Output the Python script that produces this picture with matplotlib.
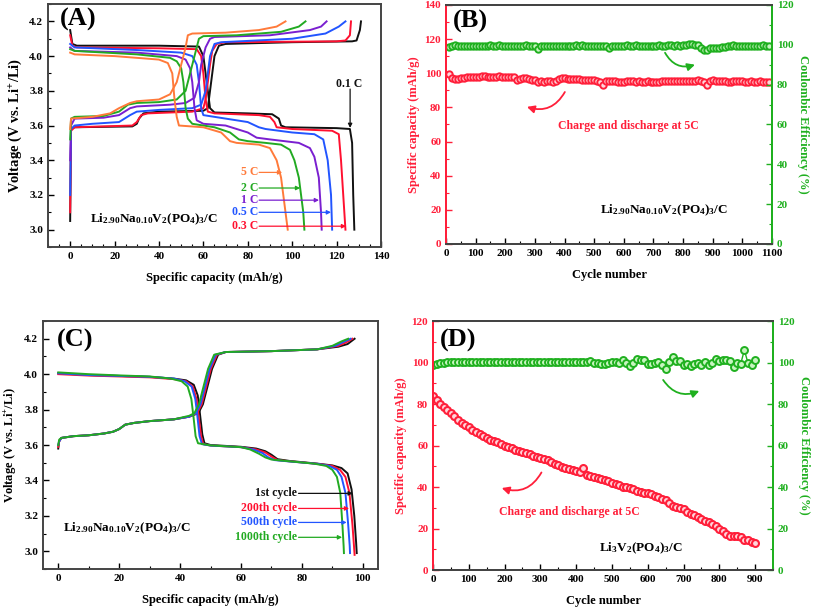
import matplotlib
matplotlib.use('Agg')
from matplotlib import pyplot as plt
from matplotlib.ticker import MultipleLocator

plt.rcParams['font.family'] = ['Liberation Serif', 'DejaVu Serif']
plt.rcParams['font.weight'] = 'bold'
plt.rcParams['axes.labelweight'] = 'bold'
plt.rcParams['mathtext.fontset'] = 'custom'
plt.rcParams['mathtext.rm'] = 'Liberation Serif:bold'
plt.rcParams['mathtext.it'] = 'Liberation Serif:italic:bold'
plt.rcParams['mathtext.bf'] = 'Liberation Serif:bold'
plt.rcParams['mathtext.default'] = 'bf'

FRAME = '#444444'
RED = '#ff1f3a'
GREEN = '#1fb01f'
FORMULA_NA = r'Li$_{2.90}$Na$_{0.10}$V$_2$(PO$_4$)$_3$/C'
FORMULA_LVP = r'Li$_3$V$_2$(PO$_4$)$_3$/C'

# ---- panel A : charge / discharge at different rates (cap mAh/g, V)
rate_labels = ['0.1 C', '0.3 C', '0.5 C', '1 C', '2 C', '5 C']
rate_colors = ['#111111', '#ff1030', '#2255ff', '#7a1fd0', '#22aa22', '#ff7a3a']

chg_01 = [(0, 3.05), (0.4, 3.58), (2, 3.59), (28, 3.595), (30, 3.61), (31, 3.64), (33, 3.67), (40, 3.68),
          (60, 3.685), (62, 3.70), (63, 3.8), (64, 3.9), (65, 4.0), (67, 4.06), (70, 4.07), (100, 4.08),
          (127, 4.085), (129, 4.09), (130.5, 4.15), (131, 4.2)]
dis_01 = [(0, 4.15), (1, 4.07), (3, 4.06), (40, 4.06), (58, 4.055), (60, 4.0), (61, 3.9), (62, 3.8), (63, 3.7),
          (65, 3.675), (80, 3.67), (91, 3.665), (94, 3.64), (95, 3.6), (97, 3.59), (120, 3.585), (126, 3.58),
          (127, 3.5), (127.5, 3.2), (128, 3.0)]
chg_03 = [(0, 3.1), (0.4, 3.57), (2, 3.59), (28, 3.6), (30, 3.62), (32, 3.66), (35, 3.67), (55, 3.68),
          (60, 3.70), (61, 3.75), (62, 3.85), (63, 3.95), (64, 4.03), (66, 4.07), (70, 4.08), (120, 4.085),
          (124, 4.09), (126, 4.12), (126.5, 4.2)]
dis_03 = [(0, 4.12), (1, 4.06), (3, 4.05), (40, 4.045), (57, 4.04), (59, 4.0), (60, 3.9), (61, 3.75),
          (62, 3.68), (65, 3.67), (85, 3.66), (90, 3.65), (92, 3.62), (93, 3.59), (100, 3.58), (118, 3.57),
          (121, 3.55), (122, 3.4), (123, 3.2), (124, 3.0)]
chg_05 = [(0, 3.2), (0.4, 3.58), (2, 3.60), (10, 3.61), (22, 3.62), (27, 3.66), (30, 3.68), (40, 3.69),
          (55, 3.70), (59, 3.72), (61, 3.8), (62, 3.9), (63, 4.0), (65, 4.07), (68, 4.08), (100, 4.10),
          (115, 4.13), (121, 4.17), (124, 4.2)]
dis_05 = [(0, 4.07), (2, 4.05), (30, 4.035), (50, 4.02), (55, 4.0), (57, 3.95), (58, 3.85), (59, 3.7),
          (60, 3.66), (65, 3.65), (80, 3.62), (85, 3.59), (88, 3.58), (100, 3.56), (110, 3.55), (114, 3.52),
          (116, 3.4), (117.5, 3.2), (118, 3.0)]
chg_1 = [(0, 3.4), (0.4, 3.6), (2, 3.64), (15, 3.645), (22, 3.66), (27, 3.7), (30, 3.71), (45, 3.72),
         (52, 3.73), (56, 3.76), (58, 3.85), (59, 3.95), (61, 4.05), (63, 4.1), (65, 4.11), (90, 4.12),
         (108, 4.15), (113, 4.17), (115.5, 4.2)]
dis_1 = [(0, 4.05), (2, 4.03), (30, 4.02), (48, 4.0), (52, 3.98), (54, 3.93), (55, 3.85), (56, 3.7),
         (57, 3.63), (60, 3.61), (70, 3.6), (80, 3.56), (84, 3.53), (90, 3.52), (103, 3.50), (108, 3.47),
         (110, 3.42), (112, 3.3), (113, 3.1), (113.3, 3.0)]
chg_2 = [(0, 3.52), (0.4, 3.64), (2, 3.65), (15, 3.655), (22, 3.68), (26, 3.72), (30, 3.73), (40, 3.735),
         (48, 3.75), (52, 3.8), (54, 3.9), (56, 4.0), (58, 4.1), (60, 4.115), (75, 4.12), (95, 4.14),
         (103, 4.17), (106, 4.2)]
dis_2 = [(0, 4.04), (2, 4.03), (30, 4.01), (45, 3.99), (48, 3.97), (50, 3.93), (51, 3.85), (52, 3.7),
         (53, 3.64), (55, 3.61), (65, 3.59), (72, 3.56), (76, 3.52), (80, 3.51), (88, 3.50), (95, 3.49),
         (99, 3.46), (101, 3.40), (103, 3.3), (105, 3.1), (105.5, 3.0)]
chg_5 = [(0, 3.58), (0.4, 3.64), (10, 3.65), (18, 3.67), (22, 3.70), (27, 3.73), (30, 3.74), (40, 3.75),
         (45, 3.78), (48, 3.85), (50, 3.95), (52, 4.05), (53, 4.12), (55, 4.13), (70, 4.135), (85, 4.15),
         (93, 4.17), (97, 4.2)]
dis_5 = [(0, 4.02), (2, 4.01), (20, 4.0), (40, 3.98), (44, 3.96), (46, 3.9), (47, 3.75), (48, 3.65),
         (49, 3.6), (60, 3.59), (68, 3.56), (72, 3.51), (75, 3.50), (85, 3.49), (90, 3.47), (93, 3.4),
         (95, 3.3), (97, 3.1), (98, 3.0)]
rate_charge = [chg_01, chg_03, chg_05, chg_1, chg_2, chg_5]
rate_discharge = [dis_01, dis_03, dis_05, dis_1, dis_2, dis_5]
# label voltage and arrow end capacity for the rate tags
rate_tag_v = [None, 3.02, 3.10, 3.17, 3.24, 3.33]
rate_tag_end = [None, 124.3, 117.5, 112.1, 103.6, 95.5]

# ---- panel B : long cycling of Li2.90Na0.10V2(PO4)3/C at 5C
b_cycle = list(range(10, 1100, 10))
b_capacity = [99.5, 97.5, 96.8, 96.8, 97, 97.5, 97.8, 98, 98, 98, 97.8, 98.2, 98.3, 98, 97.8, 98, 97.7, 98.2,
              97.8, 97.8, 97.8, 97.6, 97.6, 96.3, 96.5, 97.3, 97, 96.5, 96.2, 95.8, 95, 95.5, 95, 95.2, 95.4,
              94.7, 95.5, 96.5, 97, 97, 96.8, 96.5, 96.5, 96.6, 96.4, 96.2, 96, 96.3, 96.2, 95.8, 95.6, 94.8,
              93, 95.5, 95.3, 95.3, 95.2, 95, 94.7, 95, 95.2, 95.5, 95.3, 95, 95.2, 94.7, 94.8, 95.2, 95, 94.8,
              95, 94.8, 95.2, 95.4, 95.4, 95.5, 95.5, 95.5, 95.5, 95.5, 95.6, 95.5, 95.6, 95.4, 95.8, 95.6,
              94.7, 93, 95.5, 95.8, 95.5, 95.2, 95.5, 95.2, 94.6, 95, 95.3, 95.3, 95.5, 95.4, 94.8, 95, 95.2,
              95, 94.9, 95.2, 94.6, 94.7, 94.7]
b_efficiency = [98.8, 99.6, 99.7, 99.6, 99.5, 99.6, 99.6, 99.5, 99.6, 99.6, 99.5, 99.4, 99.5, 99.4, 99.7, 99.5,
                99.4, 99.7, 99.6, 99.5, 99.4, 99.5, 99.4, 99.5, 99.6, 99.5, 99.7, 99.6, 99.6, 99.3, 98.0, 99.4,
                99.6, 99.6, 99.5, 99.5, 99.4, 99.6, 99.5, 99.3, 99.6, 99.5, 99.4, 99.7, 99.6, 99.7, 99.5, 99.6,
                99.6, 99.5, 99.4, 99.6, 99.6, 99.3, 98.2, 99.4, 99.5, 99.4, 99.6, 99.5, 99.7, 99.5, 99.6, 99.7,
                99.6, 99.5, 99.6, 99.4, 99.5, 99.4, 99.6, 99.8, 99.6, 99.5, 99.7, 99.8, 99.6, 99.7, 99.6, 99.7,
                99.8, 100.4, 100.3, 99.9, 99.8, 98.2, 97.2, 97.6, 98.4, 98.6, 98.5, 98.6, 98.7, 98.8, 99.2,
                99.6, 99.7, 99.6, 99.5, 99.6, 99.4, 99.2, 99.4, 99.6, 99.5, 99.6, 99.7, 99.6, 99.3]

# ---- panel C : selected cycles at 5C
cycle_labels = ['1st cycle', '200th cycle', '500th cycle', '1000th cycle']
cycle_colors = ['#111111', '#ff1030', '#2255ff', '#22aa22']
c_chg_1 = [(0, 3.58), (0.3, 3.62), (1, 3.64), (5, 3.65), (10, 3.655), (15, 3.665), (18, 3.675), (20, 3.69),
           (22, 3.715), (25, 3.725), (30, 3.735), (38, 3.745), (43, 3.76), (46, 3.78), (47.5, 3.83),
           (49, 3.93), (50.5, 4.03), (52.5, 4.11), (55, 4.125), (70, 4.13), (85, 4.14), (92, 4.155),
           (95, 4.17), (97.3, 4.2)]
c_chg_200 = [(0, 3.59), (0.3, 3.62), (1, 3.64), (5, 3.65), (10, 3.655), (15, 3.665), (18, 3.675), (20, 3.69),
             (22, 3.715), (25, 3.725), (30, 3.735), (38, 3.745), (43, 3.76), (45.6, 3.78), (47.1, 3.83),
             (48.6, 3.93), (50.1, 4.03), (52.1, 4.11), (55, 4.125), (70, 4.13), (85, 4.14), (92, 4.16),
             (94.6, 4.18), (96.6, 4.2)]
c_chg_500 = [(0, 3.6), (0.3, 3.62), (1, 3.64), (5, 3.65), (10, 3.655), (15, 3.665), (18, 3.675), (20, 3.69),
             (22, 3.715), (25, 3.725), (30, 3.735), (38, 3.745), (43, 3.76), (45.2, 3.78), (46.7, 3.83),
             (48.2, 3.93), (49.7, 4.03), (51.7, 4.11), (55, 4.125), (70, 4.13), (85, 4.14), (91, 4.16),
             (94, 4.185), (96.0, 4.2)]
c_chg_1000 = [(0, 3.6), (0.3, 3.63), (1, 3.64), (5, 3.65), (10, 3.655), (15, 3.665), (18, 3.675), (20, 3.69),
              (22, 3.715), (25, 3.725), (30, 3.735), (38, 3.745), (43, 3.765), (44.7, 3.78), (46.2, 3.83),
              (47.7, 3.93), (49.2, 4.03), (51.2, 4.11), (55, 4.125), (70, 4.13), (85, 4.14), (90, 4.16),
              (93, 4.185), (95.2, 4.2)]
c_dis_1 = [(0, 4.005), (10, 3.995), (20, 3.99), (30, 3.985), (38, 3.975), (42, 3.965), (44.5, 3.94),
           (45.8, 3.88), (46.5, 3.78), (47.3, 3.66), (48, 3.61), (50, 3.6), (60, 3.59), (65, 3.58),
           (68, 3.565), (70, 3.545), (72, 3.52), (76, 3.51), (85, 3.495), (90, 3.485), (93, 3.47),
           (95, 3.44), (96.3, 3.35), (97.2, 3.2), (97.8, 3.05), (98, 2.99)]
c_dis_200 = [(0, 4.0), (10, 3.992), (20, 3.987), (30, 3.982), (38, 3.972), (42, 3.96), (44.2, 3.93),
             (45.4, 3.86), (46.1, 3.76), (46.9, 3.65), (47.6, 3.605), (50, 3.597), (60, 3.588), (65, 3.575),
             (68, 3.558), (70, 3.535), (72, 3.515), (76, 3.508), (85, 3.494), (90, 3.482), (92.5, 3.46),
             (94.3, 3.42), (95.6, 3.33), (96.6, 3.15), (97.1, 3.03), (97.3, 2.98)]
c_dis_500 = [(0, 4.005), (10, 3.995), (20, 3.99), (30, 3.985), (38, 3.975), (41.5, 3.96), (43.8, 3.93),
             (45, 3.86), (45.7, 3.76), (46.4, 3.65), (47.2, 3.605), (50, 3.597), (60, 3.588), (64, 3.575),
             (67, 3.555), (69, 3.53), (71, 3.515), (76, 3.507), (85, 3.494), (89, 3.482), (91.5, 3.46),
             (93, 3.42), (94.3, 3.33), (95.2, 3.15), (95.7, 3.03), (95.8, 2.99)]
c_dis_1000 = [(0, 4.01), (10, 4.0), (20, 3.993), (30, 3.987), (37, 3.975), (40.5, 3.96), (42.5, 3.93),
              (43.7, 3.86), (44.4, 3.76), (45.1, 3.65), (45.9, 3.61), (50, 3.598), (60, 3.588), (63, 3.575),
              (66, 3.55), (68, 3.53), (70, 3.518), (76, 3.508), (84, 3.495), (88, 3.482), (90, 3.46),
              (91.5, 3.42), (92.6, 3.33), (93.3, 3.15), (93.7, 3.03), (93.8, 2.99)]
c_charge = [c_chg_1, c_chg_200, c_chg_500, c_chg_1000]
c_discharge = [c_dis_1, c_dis_200, c_dis_500, c_dis_1000]
c_tag_v = [3.327, 3.242, 3.163, 3.079]
c_tag_end = [96.7, 95.5, 94.7, 93.2]

# ---- panel D : long cycling of Li3V2(PO4)3/C at 5C
d_cycle = [1] + list(range(10, 910, 10))
d_capacity = [84, 82, 80, 78.5, 77, 75.5, 74, 72.5, 71, 70, 69, 67.5, 66.5, 65.5, 64.5, 63.5, 62.5, 62, 61.5,
              60.5, 60, 59.5, 59, 58, 57.5, 57, 56.5, 56, 55, 54.5, 54, 53.5, 53, 52, 51, 50.5, 49.5, 49, 48.5,
              48, 47.5, 47, 49, 46, 45.5, 45, 44.5, 44, 43.5, 43, 42, 41.5, 41, 40, 40, 39.5, 39, 38, 37.5, 37,
              37, 36.5, 35.5, 35, 34, 33.5, 32.5, 31, 30.5, 30, 29.5, 28, 27, 26.5, 25.5, 24.5, 23.5, 23, 22,
              21, 20, 19, 17.5, 16.5, 16.5, 16.5, 16, 14.5, 14.5, 13.5, 13]
d_efficiency = [99, 99.5, 99.6, 100, 100.2, 100.3, 100.3, 100.3, 100.2, 100.3, 100.3, 100.2, 100.3, 100.2,
                100.3, 100.3, 100.2, 100.3, 100.2, 100.2, 100.1, 100.2, 100.2, 100.1, 100.2, 100.2, 100.1,
                100.2, 100.1, 100.2, 100.1, 100.2, 100.1, 100.2, 100.1, 100.1, 100.2, 100.1, 100.2, 100.2,
                100.2, 100.1, 100.2, 100.2, 100.6, 100, 99.6, 99.5, 99.4, 99.8, 100.4, 100.2, 99.8, 101.2,
                100, 98.5, 99.8, 101.5, 101, 101.2, 99.2, 99.4, 99.8, 100.4, 99, 96.8, 100.2, 102.5, 100.8,
                100.6, 98.8, 99.2, 98.2, 99.2, 100, 99, 100.2, 98.8, 99.8, 101.5, 100.6, 101, 101, 100.6, 98,
                99.6, 99.5, 106, 99.8, 98.6, 101]


def style_frame(ax, left_color=FRAME, right_color=FRAME):
  for side in ['top', 'bottom']:
    ax.spines[side].set_color(FRAME)
    ax.spines[side].set_linewidth(1.4)
  ax.spines['left'].set_color(left_color)
  ax.spines['left'].set_linewidth(1.4)
  ax.spines['right'].set_color(right_color)
  ax.spines['right'].set_linewidth(1.4)
  ax.tick_params(which='both', direction='in', labelsize=8)
  ax.tick_params(which='major', length=4, width=1)
  ax.tick_params(which='minor', length=2, width=0.8)


def plot_profile(ax, pts, color):
  ax.plot([p[0] for p in pts], [p[1] for p in pts], color=color, lw=1.4)


def tag_arrow(ax, label, x_text, y, x_end, color, fs=8.5):
  ax.text(x_text, y, label, color=color, fontsize=fs, ha='right', va='center', fontweight='bold')
  ax.annotate('', xy=(x_end, y), xytext=(x_text + 0.5, y),
              arrowprops=dict(arrowstyle='-|>', color=color, lw=0.9, mutation_scale=6, shrinkA=0, shrinkB=0))


fig = plt.figure(figsize=(8.13, 6.11), dpi=100)

# ----- (A)
axA = fig.add_axes([0.0590, 0.5957, 0.4096, 0.3977])
for chg, dis, col in zip(rate_charge, rate_discharge, rate_colors):
  plot_profile(axA, chg, col)
  plot_profile(axA, dis, col)
axA.set_xlim(-10, 140)
axA.set_ylim(2.9, 4.3)
axA.xaxis.set_major_locator(MultipleLocator(20))
axA.xaxis.set_minor_locator(MultipleLocator(5))
axA.yaxis.set_major_locator(MultipleLocator(0.2))
axA.yaxis.set_minor_locator(MultipleLocator(0.1))
axA.set_xlabel('Specific capacity (mAh/g)', fontsize=9, labelpad=8)
axA.set_ylabel(r'Voltage (V vs. Li$^{+}$/Li)', fontsize=10.5, labelpad=4)
style_frame(axA)
for i in range(1, len(rate_labels)):
  tag_arrow(axA, rate_labels[i], 84.6, rate_tag_v[i], rate_tag_end[i], rate_colors[i])
axA.text(125.5, 3.84, rate_labels[0], fontsize=8.5, ha='center', va='center', color='#111111')
axA.annotate('', xy=(126.1, 3.586), xytext=(126.1, 3.81),
             arrowprops=dict(arrowstyle='-|>', color='#111111', lw=0.9, mutation_scale=6, shrinkA=0, shrinkB=0))
axA.text(9, 3.06, FORMULA_NA, fontsize=9.5, ha='left', va='center')
axA.text(0.036, 0.938, '(A)', transform=axA.transAxes, fontsize=19, ha='left', va='center')

# ----- (B)
axB = fig.add_axes([0.5486, 0.6007, 0.4010, 0.3912])
axB2 = axB.twinx()
axB.plot(b_cycle, b_capacity, color=RED, lw=1, marker='o', ms=4.6, mfc='#ffd6dc', mec=RED, mew=1.4)
axB2.plot(b_cycle, b_efficiency, color=GREEN, lw=1, marker='o', ms=4.6, mfc='#c8f5c0', mec=GREEN, mew=1.4)
axB.set_xlim(0, 1100)
axB.set_ylim(0, 140)
axB2.set_ylim(0, 120)
axB.xaxis.set_major_locator(MultipleLocator(100))
axB.xaxis.set_minor_locator(MultipleLocator(50))
axB.yaxis.set_major_locator(MultipleLocator(20))
axB.yaxis.set_minor_locator(MultipleLocator(10))
axB2.yaxis.set_major_locator(MultipleLocator(20))
axB2.yaxis.set_minor_locator(MultipleLocator(10))
axB.set_xlabel('Cycle number', fontsize=9, labelpad=8)
axB.set_ylabel('Specific capacity (mAh/g)', fontsize=9, color=RED, labelpad=3)
axB2.set_ylabel('Coulombic Efficiency (%)', fontsize=9, color=GREEN, rotation=270, labelpad=11)
style_frame(axB, RED, GREEN)
style_frame(axB2, RED, GREEN)
axB.tick_params(axis='y', which='both', colors=RED)
axB2.tick_params(axis='y', which='both', colors=GREEN)
axB.text(614, 69, 'Charge and discharge at 5C', color=RED, fontsize=8.5, ha='center', va='center')
axB.annotate('', xy=(273, 80.3), xytext=(401, 89),
             arrowprops=dict(arrowstyle='-|>', color=RED, lw=1.3, mutation_scale=11,
                             connectionstyle='arc3,rad=-0.4', shrinkA=0, shrinkB=0))
axB2.annotate('', xy=(840, 90), xytext=(739, 96),
              arrowprops=dict(arrowstyle='-|>', color=GREEN, lw=1.3, mutation_scale=11,
                              connectionstyle='arc3,rad=0.4', shrinkA=0, shrinkB=0))
axB.text(520, 20, FORMULA_NA, fontsize=9.5, ha='left', va='center')
axB.text(0.021, 0.929, '(B)', transform=axB.transAxes, fontsize=19, ha='left', va='center')

# ----- (C)
axC = fig.add_axes([0.0529, 0.0687, 0.4121, 0.4059])
for chg, dis, col in zip(c_charge, c_discharge, cycle_colors):
  plot_profile(axC, chg, col)
  plot_profile(axC, dis, col)
axC.set_xlim(-5, 105)
axC.set_ylim(2.9, 4.3)
axC.xaxis.set_major_locator(MultipleLocator(20))
axC.xaxis.set_minor_locator(MultipleLocator(10))
axC.yaxis.set_major_locator(MultipleLocator(0.2))
axC.yaxis.set_minor_locator(MultipleLocator(0.1))
axC.set_xlabel('Specific capacity (mAh/g)', fontsize=9, labelpad=8)
axC.set_ylabel(r'Voltage (V vs. Li$^{+}$/Li)', fontsize=9, labelpad=4)
style_frame(axC)
for i in range(len(cycle_labels)):
  tag_arrow(axC, cycle_labels[i], 78.4, c_tag_v[i], c_tag_end[i], cycle_colors[i])
axC.text(1.6, 3.13, FORMULA_NA, fontsize=9.5, ha='left', va='center')
axC.text(0.042, 0.923, '(C)', transform=axC.transAxes, fontsize=19, ha='left', va='center')

# ----- (D)
axD = fig.add_axes([0.5326, 0.0671, 0.4182, 0.4075])
axD2 = axD.twinx()
axD.plot(d_cycle, d_capacity, color=RED, lw=1, marker='o', ms=5, mfc='#ffd6dc', mec=RED, mew=1.5)
axD2.plot(d_cycle, d_efficiency, color=GREEN, lw=1, marker='o', ms=5, mfc='#c8f5c0', mec=GREEN, mew=1.4)
axD.set_xlim(0, 950)
axD.set_ylim(0, 120)
axD2.set_ylim(0, 120)
axD.xaxis.set_major_locator(MultipleLocator(100))
axD.xaxis.set_minor_locator(MultipleLocator(50))
axD.yaxis.set_major_locator(MultipleLocator(20))
axD.yaxis.set_minor_locator(MultipleLocator(10))
axD2.yaxis.set_major_locator(MultipleLocator(20))
axD2.yaxis.set_minor_locator(MultipleLocator(10))
axD.set_xlabel('Cycle number', fontsize=9, labelpad=8)
axD.set_ylabel('Specific capacity (mAh/g)', fontsize=9, color=RED, labelpad=3)
axD2.set_ylabel('Coulombic Efficiency (%)', fontsize=9, color=GREEN, rotation=270, labelpad=11)
style_frame(axD, RED, GREEN)
style_frame(axD2, RED, GREEN)
axD.tick_params(axis='y', which='both', colors=RED)
axD2.tick_params(axis='y', which='both', colors=GREEN)
axD.text(382, 28, 'Charge and discharge at 5C', color=RED, fontsize=8.5, ha='center', va='center')
axD.annotate('', xy=(192, 39.5), xytext=(303, 47),
             arrowprops=dict(arrowstyle='-|>', color=RED, lw=1.3, mutation_scale=11,
                             connectionstyle='arc3,rad=-0.4', shrinkA=0, shrinkB=0))
axD2.annotate('', xy=(744, 86.3), xytext=(643, 91.6),
              arrowprops=dict(arrowstyle='-|>', color=GREEN, lw=1.3, mutation_scale=11,
                              connectionstyle='arc3,rad=0.4', shrinkA=0, shrinkB=0))
axD.text(465, 10.6, FORMULA_LVP, fontsize=9.5, ha='left', va='center')
axD.text(0.02, 0.923, '(D)', transform=axD.transAxes, fontsize=19, ha='left', va='center')

fig.savefig('out.png', dpi=100)
